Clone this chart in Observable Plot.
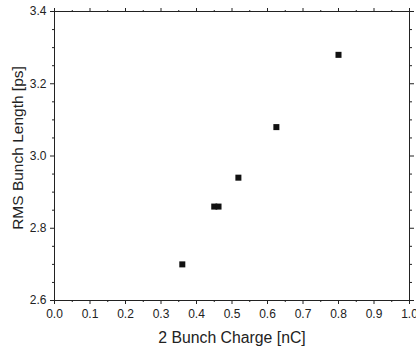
<!DOCTYPE html>
<html>
<head>
<meta charset="utf-8">
<script src="https://cdn.jsdelivr.net/npm/d3@7"></script>
<script src="https://cdn.jsdelivr.net/npm/@observablehq/plot@0.6"></script>
<style>
  html, body { margin: 0; padding: 0; background: #fff; }
  #chart { width: 416px; height: 348px; }
  #chart svg { font-family: "Liberation Sans", Arial, sans-serif; }
</style>
</head>
<body>
<div id="chart"></div>
<script>
const charge = [0.36, 0.45, 0.462, 0.518, 0.625, 0.80];
const bunchLength = [2.70, 2.86, 2.86, 2.94, 3.08, 3.28];
const xMajorTicks = [0, 0.1, 0.2, 0.3, 0.4, 0.5, 0.6, 0.7, 0.8, 0.9, 1.0];
const xMinorTicks = [0.05, 0.15, 0.25, 0.35, 0.45, 0.55, 0.65, 0.75, 0.85, 0.95];
const yMajorTicks = [2.6, 2.8, 3.0, 3.2, 3.4];
const yMinorTicks = [2.65, 2.7, 2.75, 2.85, 2.9, 2.95, 3.05, 3.1, 3.15, 3.25, 3.3, 3.35];
const xTitle = "2 Bunch Charge [nC]";
const yTitle = "RMS Bunch Length [ps]";

const data = charge.map((c, i) => ({charge: c, length: bunchLength[i]}));
const col = "#222";
const none = () => "";

const chart = Plot.plot({
  width: 416,
  height: 348,
  marginLeft: 54,
  marginRight: 7,
  marginTop: 11,
  marginBottom: 48,
  style: {fontFamily: "Liberation Sans, Arial, sans-serif", background: "#fff", color: col},
  x: {domain: [0, 1]},
  y: {domain: [2.6, 3.4]},
  marks: [
    Plot.frame({stroke: col, strokeWidth: 1}),
    // bottom axis
    Plot.axisX(xMajorTicks, {anchor: "bottom", tickSize: 4, tickPadding: 5, fontSize: 12, tickFormat: d3.format(".1f"), label: null, stroke: col, fill: col}),
    Plot.axisX(xMinorTicks, {anchor: "bottom", tickSize: 2, tickFormat: none, label: null, stroke: col}),
    // top axis
    Plot.axisX(xMajorTicks, {anchor: "top", tickSize: 4, tickFormat: none, label: null, stroke: col}),
    Plot.axisX(xMinorTicks, {anchor: "top", tickSize: 2, tickFormat: none, label: null, stroke: col}),
    // left axis
    Plot.axisY(yMajorTicks, {anchor: "left", tickSize: 4, tickPadding: 4, fontSize: 12, tickFormat: d3.format(".1f"), label: null, stroke: col, fill: col}),
    Plot.axisY(yMinorTicks, {anchor: "left", tickSize: 2, tickFormat: none, label: null, stroke: col}),
    // right axis
    Plot.axisY(yMajorTicks, {anchor: "right", tickSize: 4, tickFormat: none, label: null, stroke: col}),
    Plot.axisY(yMinorTicks, {anchor: "right", tickSize: 2, tickFormat: none, label: null, stroke: col}),
    // axis titles
    Plot.text([xTitle], {frameAnchor: "bottom", textAnchor: "middle", lineAnchor: "middle", dy: 37, fontSize: 15.8, fill: col, text: d => d}),
    Plot.text([yTitle], {frameAnchor: "left", textAnchor: "middle", lineAnchor: "middle", dx: -36, dy: -8, rotate: -90, fontSize: 15.5, fill: col, text: d => d}),
    // data
    Plot.dot(data, {x: "charge", y: "length", symbol: "square", r: 3.4, fill: "#111", stroke: "none"})
  ]
});
document.getElementById("chart").appendChild(chart);
</script>
</body>
</html>
